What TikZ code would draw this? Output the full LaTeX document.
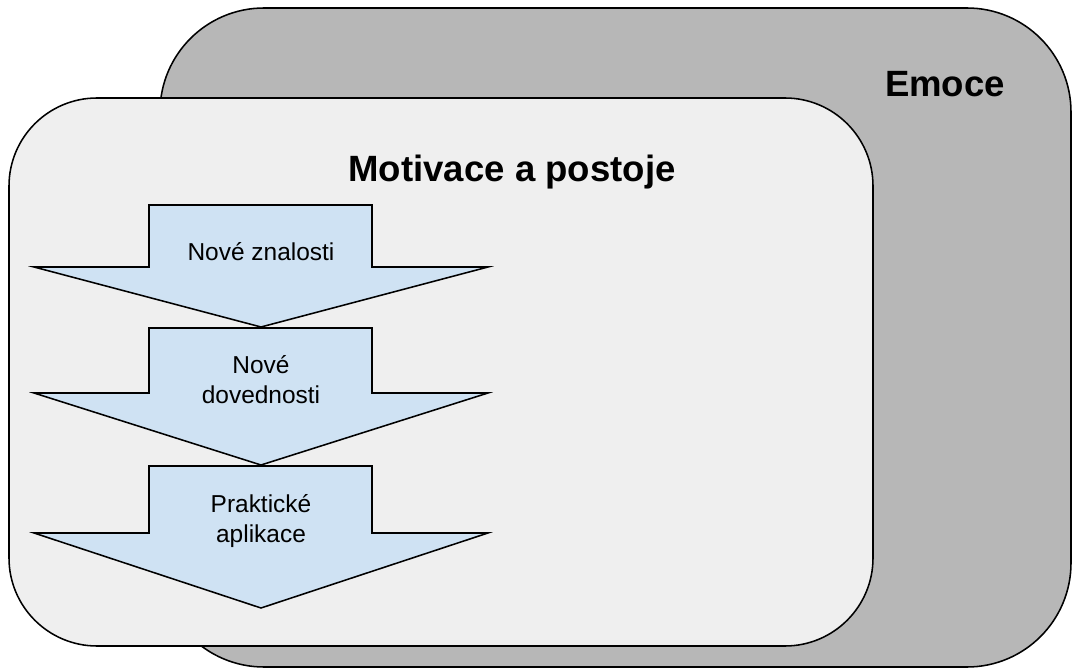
\documentclass[tikz,border=0pt]{standalone}
\usepackage{fontspec}
\setmainfont{Liberation Sans}

\definecolor{emocegray}{HTML}{B7B7B7}
\definecolor{motivgray}{HTML}{EFEFEF}
\definecolor{stepblue}{HTML}{CFE2F3}

\tikzset{
  roundbox/.style={draw=black, line width=1.1pt, rounded corners=#1},
  stepshape/.style={draw=black, line width=1.1pt, fill=stepblue, line join=miter},
  titletext/.style={font=\bfseries\fontsize{26}{30}\selectfont, anchor=base},
  steptext/.style={font=\fontsize{17.4}{21.3}\selectfont, align=center, anchor=base}
}

\begin{document}
\begin{tikzpicture}[x=0.025cm, y=-0.025cm]
    % Page frame
    \useasboundingbox (0,0) rectangle (1073,669);

    % Outer box: emotions
    \draw[roundbox=2.6cm, fill=emocegray] (160,8) rectangle (1071,667);
    \node[titletext] (emoce) at (945,97) {Emoce};

    % Inner box: motivation
    \draw[roundbox=2.2cm, fill=motivgray] (9,98) rectangle (873,646);
    \node[titletext] (motiv) at (512,182) {Motivace a postoje};

    % Down arrows (top / shoulder / tip)
    \foreach \t/\s/\p in {205/267/327, 328/393/465, 466/533/608}
        \draw[stepshape] (149,\t) -- (372,\t) -- (372,\s) -- (488,\s)
            -- (261,\p) -- (34,\s) -- (149,\s) -- cycle;

    % Labels of the arrows (base = last line)
    \node[steptext] (znalosti) at (261,261) {Nové znalosti};
    \node[steptext] (dovednosti) at (261,403) {Nové\\dovednosti};
    \node[steptext] (aplikace) at (261,542) {Praktické\\aplikace};

\end{tikzpicture}
\end{document}
